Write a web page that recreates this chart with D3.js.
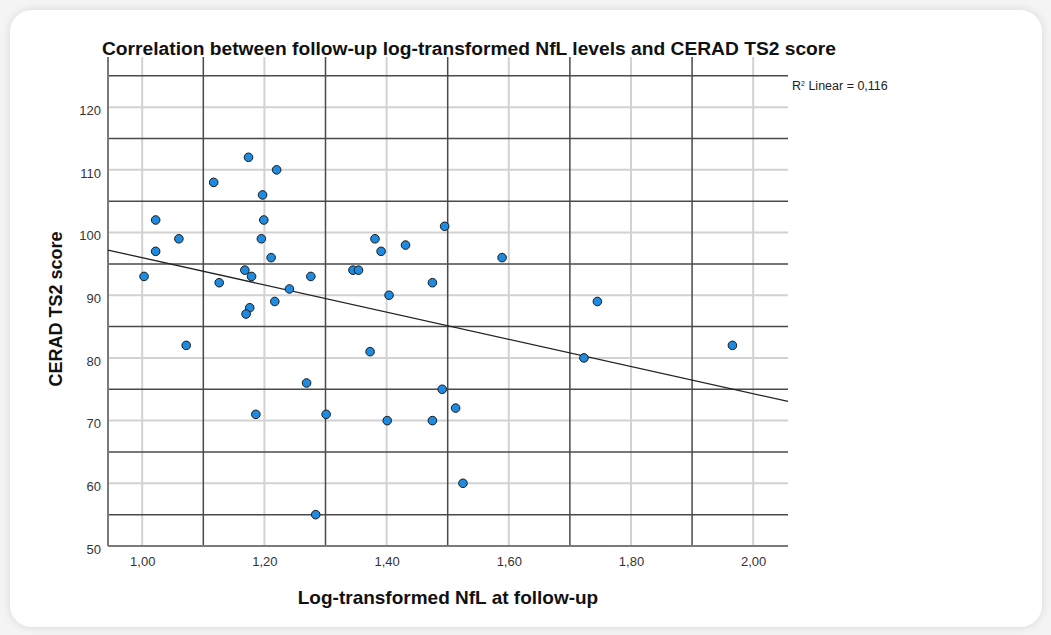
<!DOCTYPE html>
<html>
<head>
<meta charset="utf-8">
<script src="https://cdn.jsdelivr.net/npm/d3@7"></script>
<style>
  body { margin: 0; background: #f4f4f4; font-family: "Liberation Sans", Arial, sans-serif; }
  svg { display: block; }
</style>
</head>
<body>
<div id="chart"></div>
<script>
// values
const nflLevels = [1.174, 1.220, 1.117, 1.197, 1.022, 1.199, 1.060, 1.195, 1.022, 1.211,
  1.003, 1.168, 1.179, 1.126, 1.276, 1.241, 1.217, 1.176, 1.170, 1.072,
  1.269, 1.186, 1.301, 1.284, 1.495, 1.381, 1.431, 1.391, 1.589, 1.345,
  1.354, 1.475, 1.404, 1.373, 1.491, 1.513, 1.401, 1.475, 1.525, 1.723,
  1.745, 1.966];
const ceradScores = [112, 110, 108, 106, 102, 102, 99, 99, 97, 96,
  93, 94, 93, 92, 93, 91, 89, 88, 87, 82,
  76, 71, 71, 55, 101, 99, 98, 97, 96, 94,
  94, 92, 90, 81, 75, 72, 70, 70, 60, 80,
  89, 82];
const xTicks = [1.0, 1.2, 1.4, 1.6, 1.8, 2.0];
const xMidLines = [1.1, 1.3, 1.5, 1.7, 1.9];
const yTicks = [50, 60, 70, 80, 90, 100, 110, 120];
const yMidLines = [55, 65, 75, 85, 95, 105, 115, 125];
const r2Label = "0,116";

const W = 1051, H = 635;
const plot = { left: 108, right: 788, top: 57, bottom: 546 };

const svg = d3.select("#chart").append("svg")
  .attr("width", W)
  .attr("height", H);

// card with soft shadow
const defs = svg.append("defs");
const f = defs.append("filter").attr("id", "shadow").attr("x", -0.05).attr("y", -0.05).attr("width", 1.1).attr("height", 1.1);
f.append("feDropShadow").attr("dx", 0).attr("dy", 0).attr("stdDeviation", 4).attr("flood-color", "#000").attr("flood-opacity", 0.12);
svg.append("rect")
  .attr("x", 10).attr("y", 10)
  .attr("width", 1032).attr("height", 617)
  .attr("rx", 22).attr("ry", 22)
  .attr("fill", "#fff")
  .attr("filter", "url(#shadow)");

const x = d3.scaleLinear().domain([0.944, 2.057]).range([plot.left, plot.right]);
const y = d3.scaleLinear().domain([50, 128]).range([plot.bottom, plot.top]);

const fmt = d3.formatLocale({ decimal: ",", thousands: ".", grouping: [3], currency: ["", ""] }).format(".2f");

const grid = svg.append("g");

// light grid lines at the labelled values
grid.selectAll(".vlight").data(xTicks).join("line")
  .attr("x1", d => x(d)).attr("x2", d => x(d))
  .attr("y1", plot.top).attr("y2", plot.bottom)
  .attr("stroke", "#d2d2d2").attr("stroke-width", 2);
grid.selectAll(".hlight").data(yTicks.filter(d => d > 50)).join("line")
  .attr("x1", plot.left).attr("x2", plot.right)
  .attr("y1", d => y(d)).attr("y2", d => y(d))
  .attr("stroke", "#d2d2d2").attr("stroke-width", 2);

// darker lines in between
grid.selectAll(".vdark").data(xMidLines).join("line")
  .attr("x1", d => x(d)).attr("x2", d => x(d))
  .attr("y1", plot.top).attr("y2", plot.bottom)
  .attr("stroke", "#4a4a4a").attr("stroke-width", 1.5);
grid.selectAll(".hdark").data(yMidLines).join("line")
  .attr("x1", plot.left).attr("x2", plot.right)
  .attr("y1", d => y(d)).attr("y2", d => y(d))
  .attr("stroke", "#4a4a4a").attr("stroke-width", 1.5);

// axis lines
svg.append("line")
  .attr("x1", plot.left).attr("x2", plot.left)
  .attr("y1", plot.top).attr("y2", plot.bottom)
  .attr("stroke", "#7a7a7a").attr("stroke-width", 2);
svg.append("line")
  .attr("x1", plot.left).attr("x2", plot.right)
  .attr("y1", plot.bottom).attr("y2", plot.bottom)
  .attr("stroke", "#7a7a7a").attr("stroke-width", 2);

// tick labels through d3 axes
const xAxis = svg.append("g")
  .attr("transform", `translate(0, ${plot.bottom})`)
  .call(d3.axisBottom(x).tickValues(xTicks).tickFormat(fmt).tickSize(0).tickPadding(11));
const yAxis = svg.append("g")
  .attr("transform", `translate(${plot.left}, 0)`)
  .call(d3.axisLeft(y).tickValues(yTicks).tickSize(0).tickPadding(7));
[xAxis, yAxis].forEach(a => {
  a.select(".domain").remove();
  a.selectAll("text")
    .attr("fill", "#333")
    .style("font-family", "'Liberation Sans', Arial, sans-serif")
    .style("font-size", "13px");
});
yAxis.selectAll("text").attr("dy", "0.55em");

// regression line (least squares over the points)
const n = nflLevels.length;
const mx = d3.mean(nflLevels), my = d3.mean(ceradScores);
let sxy = 0, sxx = 0;
for (let i = 0; i < n; i++) {
  sxy += (nflLevels[i] - mx) * (ceradScores[i] - my);
  sxx += (nflLevels[i] - mx) ** 2;
}
const slope = sxy / sxx;
const intercept = my - slope * mx;
const [x0, x1] = x.domain();
svg.append("line")
  .attr("x1", x(x0)).attr("y1", y(intercept + slope * x0))
  .attr("x2", x(x1)).attr("y2", y(intercept + slope * x1))
  .attr("stroke", "#222").attr("stroke-width", 1.3);

// points
svg.append("g").selectAll("circle")
  .data(nflLevels.map((d, i) => [d, ceradScores[i]]))
  .join("circle")
  .attr("cx", d => x(d[0]))
  .attr("cy", d => y(d[1]))
  .attr("r", 4.3)
  .attr("fill", "#1e8be0")
  .attr("stroke", "#1a1a1a")
  .attr("stroke-width", 1);

// texts
svg.append("text")
  .attr("x", 102).attr("y", 55)
  .attr("textLength", 734)
  .attr("lengthAdjust", "spacingAndGlyphs")
  .style("font-size", "17.5px")
  .style("font-weight", "bold")
  .attr("fill", "#111")
  .text("Correlation between follow-up log-transformed NfL levels and CERAD TS2 score");

const r2 = svg.append("text")
  .attr("x", 792).attr("y", 90)
  .style("font-size", "12.5px")
  .attr("fill", "#222");
r2.append("tspan").text("R");
r2.append("tspan").attr("dy", -4).style("font-size", "7px").text("2");
r2.append("tspan").attr("dy", 4).text(" Linear = " + r2Label);

svg.append("text")
  .attr("x", (plot.left + plot.right) / 2).attr("y", 604)
  .attr("text-anchor", "middle")
  .style("font-size", "19px")
  .style("font-weight", "bold")
  .attr("fill", "#111")
  .text("Log-transformed NfL at follow-up");

svg.append("text")
  .attr("transform", "translate(62, 309) rotate(-90)")
  .attr("text-anchor", "middle")
  .style("font-size", "18px")
  .style("font-weight", "bold")
  .attr("fill", "#111")
  .text("CERAD TS2 score");
</script>
</body>
</html>
